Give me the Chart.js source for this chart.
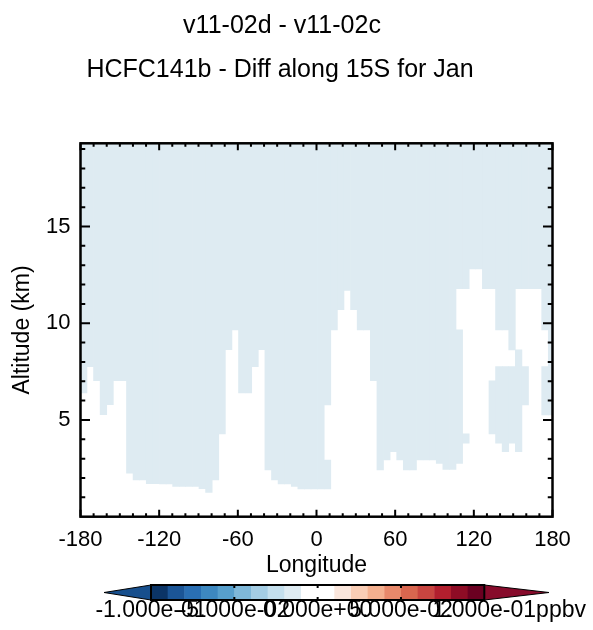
<!DOCTYPE html>
<html lang="en">
<head>
<meta charset="UTF-8">
<title>HCFC141b - Diff along 15S for Jan</title>
<script src="https://cdn.jsdelivr.net/npm/chart.js"></script>
<style>
  html, body { margin: 0; padding: 0; background: #fff; }
</style>
</head>
<body>
<canvas id="myChart" width="593" height="630"></canvas>
<script>
// ---- data ----
const titleLines = ['v11-02d - v11-02c', 'HCFC141b - Diff along 15S for Jan'];
const xTitle = 'Longitude';
const yTitle = 'Altitude (km)';

// model grid columns (cell centres, deg E)
const longitudes = [
  -177.5, -172.5, -167.5, -162.5, -157.5, -152.5, -147.5, -142.5, -137.5, -132.5,
  -127.5, -122.5, -117.5, -112.5, -107.5, -102.5, -97.5, -92.5, -87.5, -82.5,
  -77.5, -72.5, -67.5, -62.5, -57.5, -52.5, -47.5, -42.5, -37.5, -32.5,
  -27.5, -22.5, -17.5, -12.5, -7.5, -2.5, 2.5, 7.5, 12.5, 17.5,
  22.5, 27.5, 32.5, 37.5, 42.5, 47.5, 52.5, 57.5, 62.5, 67.5,
  72.5, 77.5, 82.5, 87.5, 92.5, 97.5, 102.5, 107.5, 112.5, 117.5,
  122.5, 127.5, 132.5, 137.5, 142.5, 147.5, 152.5, 157.5, 162.5, 167.5,
  172.5, 177.5
];

// altitude (km) where the small negative diff starts and runs up to the top
const upperBase = [
  6.40, 7.76, 7.03, 5.27, 5.79, 7.03, 7.03, 2.25, 1.90, 1.90,
  1.71, 1.71, 1.70, 1.70, 1.56, 1.56, 1.56, 1.56, 1.45, 1.25,
  1.90, 4.28, 8.63, 9.66, 6.40, 6.40, 7.76, 8.63, 2.42, 1.90,
  1.70, 1.70, 1.56, 1.43, 1.43, 1.43, 1.43, 5.78, 9.66, 10.70,
  11.70, 10.70, 9.66, 9.66, 7.03, 2.42, 2.93, 3.36, 2.93, 2.42,
  2.42, 2.93, 2.93, 2.93, 2.76, 2.44, 2.44, 11.78, 11.78, 12.81,
  12.81, 11.78, 11.78, 9.66, 9.66, 8.62, 11.78, 11.78, 11.78, 11.78,
  9.66, 5.26
];

// second (lower) negative patch below a gap, null where there is none
const lowerBase = [
  null, null, null, null, null, null, null, null, null, null,
  null, null, null, null, null, null, null, null, null, null,
  null, null, null, null, null, null, null, null, null, null,
  null, null, null, null, null, null, null, 1.43, null, null,
  null, null, null, null, null, null, null, null, null, null,
  null, null, null, null, null, null, null, 2.76, 3.80, null,
  null, null, 4.28, 3.80, 3.36, 3.80, 3.36, 5.78, null, null,
  5.26, null
];
const lowerTop = [
  null, null, null, null, null, null, null, null, null, null,
  null, null, null, null, null, null, null, null, null, null,
  null, null, null, null, null, null, null, null, null, null,
  null, null, null, null, null, null, null, 2.93, null, null,
  null, null, null, null, null, null, null, null, null, null,
  null, null, null, null, null, null, null, 9.66, 4.28, null,
  null, null, 7.02, 7.76, 7.76, 7.76, 8.62, 7.76, null, null,
  7.76, null
];

const lonTicks = [-180, -120, -60, 0, 60, 120, 180];
const altTicks = [5, 10, 15];
const altTop = 19.3;

// colour bar
const cbColors = [
  '#0b3466', '#1b5596', '#2a6fb3', '#3d88c0', '#579fcc',
  '#7fb8d9', '#a4cde4', '#c4dfed', '#deebf2', '#ffffff',
  '#ffffff', '#fae6dc', '#f9cdb5', '#f4b08f', '#e8896b',
  '#d8664f', '#c84540', '#b21f2e', '#8e0c25', '#6b0021'
];
const cbUnder = '#174f8d';
const cbOver = '#870b2b';
const cbLabels = ['-1.000e-01', '-5.000e-02', '0.000e+00', '5.000e-02', '1.000e-01'];
const cbUnit = 'ppbv';

const fillColor = '#deebf2';

// ---- chart ----
Chart.defaults.font.family = '"Liberation Sans", Arial, sans-serif';
Chart.defaults.color = '#000';

const upperData = longitudes.map((lon, i) => ({ x: lon, y: [upperBase[i], altTop] }));
const lowerData = [];
longitudes.forEach((lon, i) => {
  if (lowerBase[i] !== null) lowerData.push({ x: lon, y: [lowerBase[i], lowerTop[i]] });
});

const framePlugin = {
  id: 'frame',
  afterDatasetsDraw(chart) {
    const { ctx, chartArea: a, scales } = chart;
    const xs = scales.x, ys = scales.y;
    ctx.save();
    ctx.strokeStyle = '#000';
    ctx.lineWidth = 2;
    ctx.beginPath();
    for (let k = 0; k <= 36; k++) {
      const v = -180 + k * 10;
      const len = lonTicks.includes(v) ? 7 : 3.5;
      const px = xs.getPixelForValue(v);
      ctx.moveTo(px, a.bottom); ctx.lineTo(px, a.bottom - len);
      ctx.moveTo(px, a.top); ctx.lineTo(px, a.top + len);
    }
    for (let v = 1; v < altTop; v++) {
      const len = altTicks.includes(v) ? 9.5 : 4.75;
      const py = ys.getPixelForValue(v);
      ctx.moveTo(a.left, py); ctx.lineTo(a.left + len, py);
      ctx.moveTo(a.right, py); ctx.lineTo(a.right - len, py);
    }
    ctx.stroke();
    ctx.lineWidth = 2.5;
    ctx.strokeRect(a.left, a.top, a.right - a.left, a.bottom - a.top);
    ctx.restore();
  }
};

const textPlugin = {
  id: 'texts',
  afterDraw(chart) {
    const ctx = chart.ctx;
    ctx.save();
    ctx.fillStyle = '#000';
    ctx.textAlign = 'center';
    ctx.textBaseline = 'alphabetic';
    ctx.font = '25px "Liberation Sans", Arial, sans-serif';
    ctx.fillText(titleLines[0], 282, 33);
    ctx.fillText(titleLines[1], 280, 77);

    // colour bar
    const left = 151, right = 484.3, top = 585, bottom = 600;
    const tipL = 104, tipR = 549, mid = (top + bottom) / 2;
    const w = (right - left) / cbColors.length;
    cbColors.forEach((c, i) => {
      ctx.fillStyle = c;
      ctx.fillRect(left + i * w, top, w + 0.5, bottom - top);
    });
    ctx.fillStyle = cbUnder;
    ctx.beginPath(); ctx.moveTo(left, top); ctx.lineTo(tipL, mid); ctx.lineTo(left, bottom); ctx.closePath(); ctx.fill();
    ctx.fillStyle = cbOver;
    ctx.beginPath(); ctx.moveTo(right, top); ctx.lineTo(tipR, mid); ctx.lineTo(right, bottom); ctx.closePath(); ctx.fill();
    ctx.strokeStyle = '#000';
    ctx.lineWidth = 1;
    ctx.beginPath();
    ctx.moveTo(left, top); ctx.lineTo(tipL, mid); ctx.lineTo(left, bottom);
    ctx.lineTo(right, bottom); ctx.lineTo(tipR, mid); ctx.lineTo(right, top); ctx.closePath();
    ctx.stroke();
    ctx.lineWidth = 2;
    ctx.strokeRect(left, top, right - left, bottom - top);
    const step = (right - left) / (cbLabels.length - 1);
    ctx.beginPath();
    for (let i = 1; i < cbLabels.length - 1; i++) {
      const px = left + i * step;
      ctx.moveTo(px, top); ctx.lineTo(px, top + 3);
      ctx.moveTo(px, bottom); ctx.lineTo(px, bottom - 3);
    }
    ctx.stroke();

    ctx.fillStyle = '#000';
    ctx.font = '23px "Liberation Sans", Arial, sans-serif';
    ctx.textBaseline = 'middle';
    cbLabels.forEach((t, i) => {
      ctx.textAlign = 'center';
      ctx.fillText(t, left + i * step, 611);
    });
    const lastW = ctx.measureText(cbLabels[cbLabels.length - 1]).width;
    ctx.textAlign = 'left';
    ctx.fillText(cbUnit, right + lastW / 2, 611);
    ctx.restore();
  }
};

const ctx = document.getElementById('myChart').getContext('2d');
new Chart(ctx, {
  type: 'bar',
  data: {
    datasets: [
      { label: 'upper', data: upperData, xAxisID: 'xd', yAxisID: 'y',
        backgroundColor: fillColor, borderWidth: 0, clip: 0 },
      { label: 'lower', data: lowerData, xAxisID: 'xd', yAxisID: 'y',
        backgroundColor: fillColor, borderWidth: 0, clip: 0 }
    ]
  },
  options: {
    responsive: false,
    animation: false,
    devicePixelRatio: 1,
    grouped: false,
    barPercentage: 1,
    categoryPercentage: 1,
    layout: { padding: { left: 0.5, top: 143.3, right: 40.5, bottom: 50.3 } },
    plugins: { legend: { display: false }, tooltip: { enabled: false }, title: { display: false } },
    scales: {
      xd: {
        type: 'linear', display: false, offset: false, min: -179.9, max: 178.2
      },
      x: {
        type: 'linear', position: 'bottom', offset: false, min: -180, max: 180,
        afterBuildTicks: s => { s.ticks = lonTicks.map(v => ({ value: v })); },
        afterFit: s => { s.height = 63; },
        grid: { display: false, drawTicks: false, offset: false },
        border: { display: false },
        ticks: { font: { size: 22 }, padding: 10, maxRotation: 0, autoSkip: false },
        title: { display: true, text: xTitle, font: { size: 23 }, padding: { top: 0, bottom: 0 } }
      },
      y: {
        type: 'linear', position: 'left', min: 0, max: altTop,
        afterBuildTicks: s => { s.ticks = altTicks.map(v => ({ value: v })); },
        afterFit: s => { s.width = 80; },
        grid: { display: false, drawTicks: false },
        border: { display: false },
        ticks: { font: { size: 22 }, padding: 10 },
        title: { display: true, text: yTitle, font: { size: 23 }, padding: { top: 8, bottom: 0 } }
      }
    }
  },
  plugins: [framePlugin, textPlugin]
});
</script>
</body>
</html>
